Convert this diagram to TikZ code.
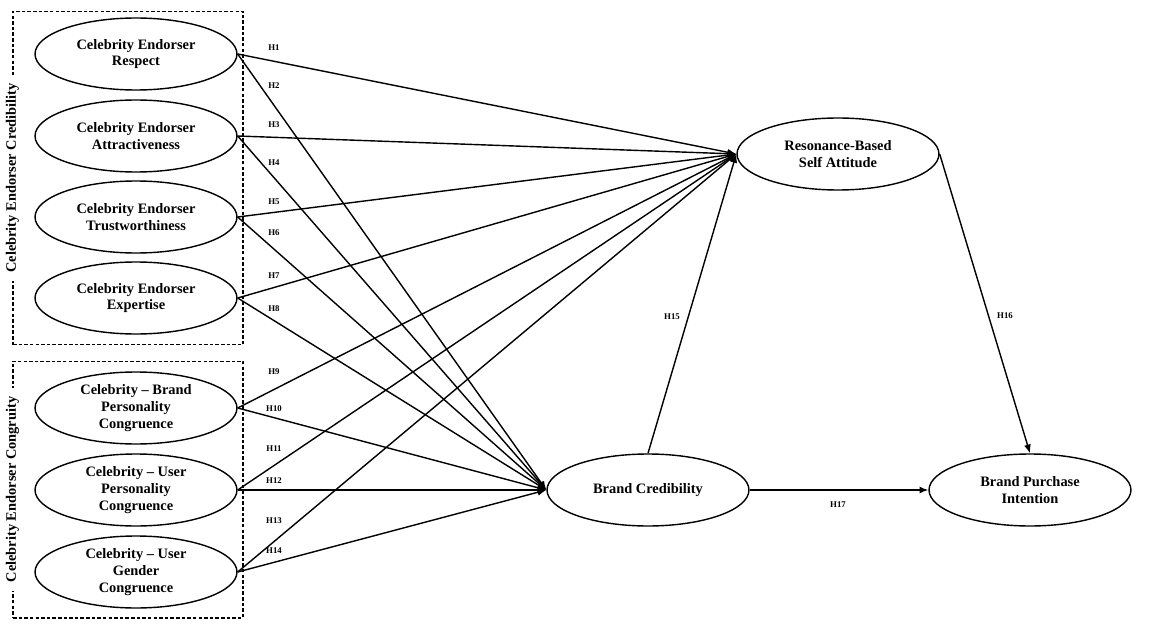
\documentclass[tikz,border=0pt]{standalone}
\usepackage{fontspec}
\setmainfont{Liberation Serif}
\usetikzlibrary{positioning,arrows.meta,shapes.geometric}

\begin{document}
\begin{tikzpicture}[x=0.02cm, y=-0.02cm,
  construct/.style={draw, ellipse, line width=0.8pt, inner sep=0pt, minimum width=4.04cm, minimum height=1.44cm, align=center, font=\fontsize{8.2}{9.6}\selectfont\bfseries},
  groupbox/.style={draw, dash pattern=on 2pt off 1.2pt, line width=0.6pt, minimum width=4.6cm},
  grouplabel/.style={fill=white, rotate=90, inner sep=5pt, font=\fontsize{8.2}{9.6}\selectfont\bfseries},
  hyp/.style={font=\fontsize{5}{6}\selectfont\bfseries, inner sep=1pt},
  path/.style={-{Latex[length=5pt,width=4pt]}, line width=0.8pt}]
\useasboundingbox (0,0) rectangle (1150,625);
\node[groupbox, minimum height=6.68cm] (credbox) at (128,178) {};
\node[groupbox, minimum height=5.14cm] (congbox) at (128,489.5) {};
\node[grouplabel] (credlabel) at (credbox.west) {Celebrity Endorser Credibility};
\node[grouplabel] (conglabel) at (congbox.west) {Celebrity Endorser Congruity};
\node[construct] (resp) at (136,54) {Celebrity Endorser\\Respect};
\node[construct] (attr) at (136,136) {Celebrity Endorser\\Attractiveness};
\node[construct] (trust) at (136,217) {Celebrity Endorser\\Trustworthiness};
\node[construct] (expert) at (136,298) {Celebrity Endorser\\Expertise};
\node[construct] (bpc) at (136,408) {Celebrity -- Brand\\Personality\\Congruence};
\node[construct] (upc) at (136,490) {Celebrity -- User\\Personality\\Congruence};
\node[construct] (ugc) at (136,572) {Celebrity -- User\\Gender\\Congruence};
\node[construct] (res) at (838,154) {Resonance-Based\\Self Attitude};
\node[construct] (bc) at (648,490) {Brand Credibility};
\node[construct] (bpi) at (1030,490) {Brand Purchase\\Intention};
\foreach \src/\a/\b in {resp/1/2, attr/3/4, trust/5/6, expert/7/8, bpc/9/10, upc/11/12, ugc/13/14}{
  \draw[path] (\src.east) -- (res.west);
  \draw[path] (\src.east) -- (bc.west);
}
\foreach \n/\ly in {1/48, 2/86, 3/125, 4/163, 5/202, 6/233, 7/276, 8/309, 9/372, 10/409, 11/449, 12/481, 13/521, 14/551}
  \node[hyp] (h\n) at (274,\ly) {H\n};
\draw[path] (bc.north) -- (res.west);
\draw[path] (res.east) -- (bpi.north);
\draw[path] (bc.east) -- (bpi.west);
\node[hyp] (h15) at (672,317) {H15};
\node[hyp] (h16) at (1005,316) {H16};
\node[hyp] (h17) at (838,505) {H17};
\end{tikzpicture}
\end{document}
